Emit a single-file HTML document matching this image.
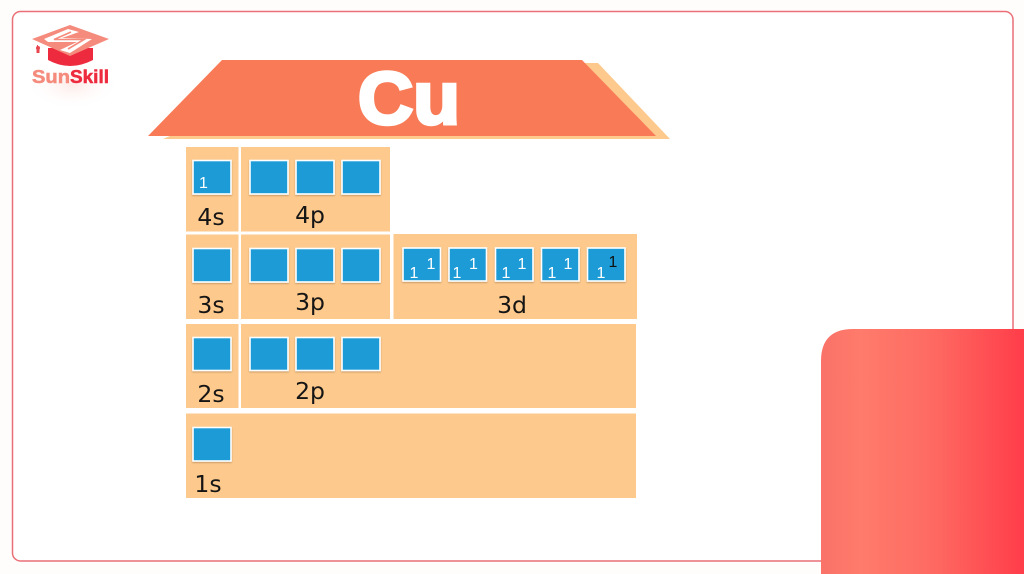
<!DOCTYPE html>
<html>
<head>
<meta charset="utf-8">
<style>
html,body{margin:0;padding:0;background:#fffdfb;width:1024px;height:574px;overflow:hidden}
svg{display:block}
text{font-family:"Liberation Sans",sans-serif}
.l{font-family:"DejaVu Sans","Liberation Sans",sans-serif;font-size:23.5px;fill:#151515;text-anchor:middle}
.d{font-size:16px;fill:#fff;text-anchor:middle}
.c{fill:#fdc98c}
.b{fill:#1a9bd6;stroke:#fff;stroke-width:1.6}
</style>
</head>
<body>
<svg width="1024" height="574" viewBox="0 0 1024 574" xmlns="http://www.w3.org/2000/svg">
<defs>
<linearGradient id="p" x1="0" x2="1" y1="0" y2="0">
<stop offset="0" stop-color="#fa7268"/>
<stop offset=".2" stop-color="#ff7b6b"/>
<stop offset=".55" stop-color="#fe6a62"/>
<stop offset="1" stop-color="#ff3d4a"/>
</linearGradient>
<radialGradient id="g" cx=".5" cy=".5" r=".5">
<stop offset="0" stop-color="#fde3df" stop-opacity=".7"/>
<stop offset="1" stop-color="#fff" stop-opacity="0"/>
</radialGradient>
<filter id="s" x="-10%" y="-10%" width="120%" height="125%">
<feDropShadow dx="0" dy="1" stdDeviation=".8" flood-color="#7a5a30" flood-opacity=".45"/>
</filter>
</defs>

<rect x="12.5" y="11.5" width="1000.5" height="549.5" rx="8" fill="#fff" stroke="#ea6f76" stroke-width="1.5"/>
<rect x="25" y="60" width="95" height="50" fill="url(#g)"/>

<!-- logo -->
<path d="M48 48 H93 V60 Q70 72 48 60 Z" fill="#ee2a3e"/>
<polygon points="32,39 70,25 109,39 70,56" fill="#f58b7d"/>
<polygon points="44,39 68,29 79,32 62,38 92,39 70,53 60,50 77,42 48,42" fill="#fff"/>
<path d="M71 32 L54 39.5 H84 L68 49" fill="none" stroke="#f58b7d" stroke-width="1.6"/>
<rect x="37" y="45" width="1" height="4" fill="#e8454f"/>
<circle cx="38" cy="48" r="2" fill="#e8454f"/>
<rect x="36.5" y="49" width="3" height="4" fill="#e8454f"/>
<text x="32" y="83" font-size="18" font-weight="700" fill="#f58b7d" stroke="#f58b7d" stroke-width=".5" textLength="38" lengthAdjust="spacingAndGlyphs">Sun</text>
<text x="70" y="83" font-size="18" font-weight="700" fill="#ee2a3e" stroke="#ee2a3e" stroke-width=".5" textLength="39" lengthAdjust="spacingAndGlyphs">Skill</text>

<!-- roof -->
<polygon points="585,63 598,63 670,139 163,139 170,136" fill="#fdc98c"/>
<polygon points="222,60 582,60 656,136 148,136" fill="#f97a56"/>
<text x="358" y="124" font-size="74" font-weight="700" fill="#fff" stroke="#fff" stroke-width="3.5" textLength="102" lengthAdjust="spacingAndGlyphs">Cu</text>

<!-- cells -->
<rect class="c" x="186" y="147" width="52.5" height="84.5"/>
<rect class="c" x="241" y="147" width="149" height="84.5"/>
<rect class="c" x="186" y="234.5" width="52.5" height="84.5"/>
<rect class="c" x="241" y="234.5" width="149" height="84.5"/>
<rect class="c" x="393.5" y="234" width="243.5" height="85"/>
<rect class="c" x="186" y="324" width="52.5" height="84"/>
<rect class="c" x="241" y="324" width="395" height="84"/>
<rect class="c" x="186" y="413.5" width="450" height="84.5"/>

<!-- squares -->
<g filter="url(#s)">
<rect class="b" x="193" y="160.5" width="38" height="33.5"/>
<rect class="b" x="250" y="160.5" width="38" height="33.5"/>
<rect class="b" x="296" y="160.5" width="38" height="33.5"/>
<rect class="b" x="342" y="160.5" width="38" height="33.5"/>

<rect class="b" x="193" y="248.5" width="38" height="33.5"/>
<rect class="b" x="250" y="248.5" width="38" height="33.5"/>
<rect class="b" x="296" y="248.5" width="38" height="33.5"/>
<rect class="b" x="342" y="248.5" width="38" height="33.5"/>

<rect class="b" x="403" y="248" width="37.5" height="33"/>
<rect class="b" x="449" y="248" width="37.5" height="33"/>
<rect class="b" x="495.5" y="248" width="37.5" height="33"/>
<rect class="b" x="541.5" y="248" width="37.5" height="33"/>
<rect class="b" x="587.5" y="248" width="37.5" height="33"/>

<rect class="b" x="193" y="337.5" width="38" height="33"/>
<rect class="b" x="250" y="337.5" width="38" height="33"/>
<rect class="b" x="296" y="337.5" width="38" height="33"/>
<rect class="b" x="342" y="337.5" width="38" height="33"/>

<rect class="b" x="193" y="427.5" width="38" height="33.5"/>
</g>

<!-- electrons -->
<text class="d" x="203.5" y="188">1</text>
<text class="d" x="414" y="278">1</text><text class="d" x="431" y="269">1</text>
<text class="d" x="457" y="278">1</text><text class="d" x="473.5" y="269">1</text>
<text class="d" x="506" y="278">1</text><text class="d" x="522" y="269">1</text>
<text class="d" x="552" y="278">1</text><text class="d" x="568" y="269">1</text>
<text class="d" x="601" y="278">1</text><text class="d" x="613" y="267" style="fill:#111">1</text>

<!-- labels -->
<text class="l" x="211" y="225">4s</text>
<text class="l" x="310" y="223">4p</text>
<text class="l" x="211" y="313">3s</text>
<text class="l" x="310" y="310">3p</text>
<text class="l" x="512" y="313">3d</text>
<text class="l" x="211" y="402">2s</text>
<text class="l" x="310" y="399">2p</text>
<text class="l" x="208" y="492">1s</text>

<!-- corner panel -->
<path d="M821 574 V361 Q821 329 853 329 H1024 V574 Z" fill="url(#p)"/>
</svg>
</body>
</html>
